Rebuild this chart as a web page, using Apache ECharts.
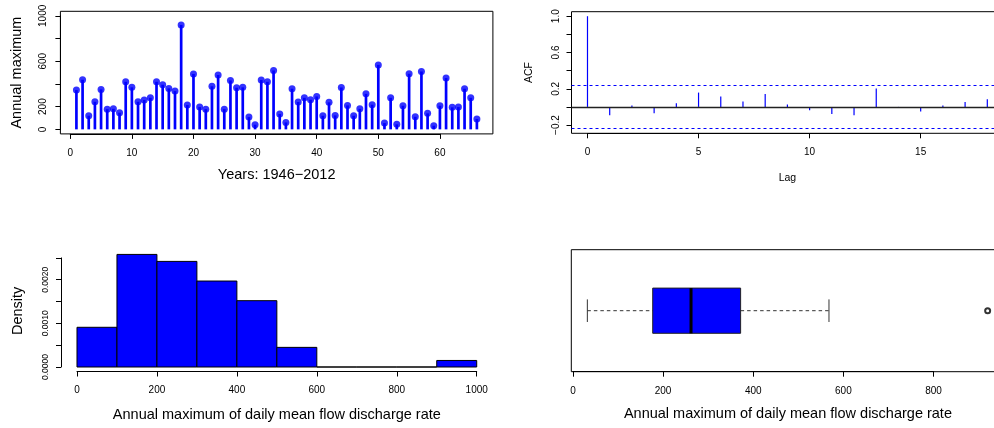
<!DOCTYPE html>
<html>
<head>
<meta charset="utf-8">
<script src="https://cdn.jsdelivr.net/npm/echarts@6/dist/echarts.min.js"></script>
<style>
  html, body { margin: 0; padding: 0; background: #fff; }
  #chart { width: 994px; height: 428px; }
</style>
</head>
<body>
<div id="chart"></div>
<script>
// Annual maximum of daily mean flow discharge rate, one value per year (1946–2012)
const annualMax = [346, 437, 120, 243, 352, 178, 181, 147, 419, 370, 243, 258, 278, 419, 393, 361, 337,
  920, 214, 488, 196, 178, 379, 479, 178, 431, 367, 370, 108, 41, 434, 419, 519, 135, 61, 358, 241, 278,
  261, 290, 120, 238, 123, 369, 211, 120, 181, 313, 217, 568, 55, 278, 44, 208, 490, 111, 510, 141, 32,
  208, 452, 194, 196, 358, 278, 91];

// Sample autocorrelation by lag, with the approximate 95% band
const acfLag = [0, 1, 2, 3, 4, 5, 6, 7, 8, 9, 10, 11, 12, 13, 14, 15, 16, 17, 18];
const acfValue = [1, -0.092, 0.015, -0.07, 0.04, 0.158, 0.114, 0.059, 0.143, 0.026, -0.037, -0.077,
  -0.092, 0.202, -0.011, -0.051, 0.015, 0.055, 0.084];
const acfBound = 0.241;

// Histogram (density scale)
const histBreaks = [0, 100, 200, 300, 400, 500, 600, 700, 800, 900, 1000];
const histDensity = [0.00091, 0.00258, 0.00242, 0.00197, 0.00152, 0.00045, 0, 0, 0, 0.00015];

// Boxplot: lower whisker, lower hinge, median, upper hinge, upper whisker
const boxStats = [32, 177, 262, 372, 568];
const boxOutliers = [920];

// Tick marks and their labels
const seriesXTicks = [0, 10, 20, 30, 40, 50, 60];
const seriesYTicks = [0, 200, 400, 600, 800, 1000];
const seriesYLabels = ['0', '200', '', '600', '', '1000'];
const acfXTicks = [0, 5, 10, 15];
const acfYTicks = [-0.2, 0, 0.2, 0.4, 0.6, 0.8, 1.0];
const acfYLabels = ['\u22120.2', '', '0.2', '', '0.6', '', '1.0'];
const histXTicks = [0, 200, 400, 600, 800, 1000];
const histYTicks = [0, 0.0005, 0.001, 0.0015, 0.002, 0.0025];
const histYLabels = ['0.0000', '', '0.0010', '', '0.0020', ''];
const boxXTicks = [0, 200, 400, 600, 800];

const BLUE = '#0000FF';
const FONT = 'Liberation Sans';

// Plot regions in pixels, with the data range each one spans
const panels = {
  series: { L: 60.4, T: 11.3, R: 492.9, B: 133.9, xlim: [-1.6, 68.6], ylim: [-40, 1040] },
  acf:    { L: 571.5, T: 11.7, R: 1003.3, B: 133.3, xlim: [-0.72, 18.72], ylim: [-0.291, 1.0497] },
  hist:   { L: 61, T: 250.1, R: 492.7, B: 371.5, xlim: [-40, 1040], ylim: [-0.000103, 0.002679] },
  box:    { L: 571.3, T: 249.7, R: 1004.6, B: 371.7, xlim: [-3.6, 957.6], ylim: [0.46, 1.54] }
};

const grids = [], xAxes = [], yAxes = [], series = [];

function labelFormatter(ticks, labels, tol) {
  return function (v) {
    const i = ticks.findIndex(t => Math.abs(t - v) < tol);
    return i < 0 ? '' : (labels ? labels[i] : String(ticks[i]));
  };
}

function gridAt(left, top, width, height, extra) {
  grids.push(Object.assign({ left, top, width, height, outerBoundsMode: 'none', containLabel: false }, extra || {}));
  return grids.length - 1;
}

function buildPanel(p, o) {
  const sx = v => p.L + (v - p.xlim[0]) / (p.xlim[1] - p.xlim[0]) * (p.R - p.L);
  const sy = v => p.B - (v - p.ylim[0]) / (p.ylim[1] - p.ylim[0]) * (p.B - p.T);
  const W = p.R - p.L, H = p.B - p.T;

  // data region
  const g = gridAt(p.L, p.T, W, H, { show: !!o.box, borderColor: '#000', borderWidth: 1, backgroundColor: 'transparent' });
  xAxes.push({ gridIndex: g, type: 'value', min: p.xlim[0], max: p.xlim[1],
    axisLine: { show: false }, axisTick: { show: false }, axisLabel: { show: false }, splitLine: { show: false },
    name: o.xName, nameLocation: 'middle', nameGap: o.xNameGap,
    nameTextStyle: { fontFamily: FONT, fontSize: o.nameSize, color: '#000' } });
  const xi = xAxes.length - 1;
  yAxes.push({ gridIndex: g, type: 'value', min: p.ylim[0], max: p.ylim[1],
    axisLine: { show: false }, axisTick: { show: false }, axisLabel: { show: false }, splitLine: { show: false },
    name: o.yName || '', nameLocation: 'middle', nameGap: o.yNameGap || 0,
    nameTextStyle: { fontFamily: FONT, fontSize: o.yNameSize || o.nameSize, color: '#000' } });
  const yi = yAxes.length - 1;

  // bottom axis, spanning first to last tick
  if (o.xTicks) {
    const t = o.xTicks, a = sx(t[0]), b = sx(t[t.length - 1]);
    const gx = gridAt(a, p.T, b - a, H);
    xAxes.push({ gridIndex: gx, type: 'value', position: 'bottom', min: t[0], max: t[t.length - 1], interval: o.xInterval,
      axisLine: { show: true, lineStyle: { color: '#000', width: 1 } },
      axisTick: { show: true, inside: false, length: 5, lineStyle: { color: '#000', width: 1 } },
      axisLabel: { margin: o.xLabelMargin, fontFamily: FONT, fontSize: o.tickSize, color: '#000',
        formatter: labelFormatter(t, o.xLabels, o.xInterval * 1e-3) },
      splitLine: { show: false } });
    yAxes.push({ gridIndex: gx, type: 'value', show: false, min: 0, max: 1 });
  }
  // left axis, spanning first to last tick
  if (o.yTicks) {
    const t = o.yTicks, a = sy(t[t.length - 1]), b = sy(t[0]);
    const gy = gridAt(p.L, a, W, b - a);
    xAxes.push({ gridIndex: gy, type: 'value', show: false, min: 0, max: 1 });
    yAxes.push({ gridIndex: gy, type: 'value', position: 'left', min: t[0], max: t[t.length - 1], interval: o.yInterval,
      axisLine: { show: true, lineStyle: { color: '#000', width: 1 } },
      axisTick: { show: true, inside: false, length: 5, lineStyle: { color: '#000', width: 1 } },
      axisLabel: { rotate: 90, margin: o.yLabelMargin, fontFamily: FONT, fontSize: o.yTickSize || o.tickSize, color: '#000',
        formatter: labelFormatter(t, o.yLabels, o.yInterval * 1e-3) },
      splitLine: { show: false } });
  }
  return { xi, yi };
}

// ---- Annual maxima as vertical spikes with dots
const A = buildPanel(panels.series, {
  box: true, xName: 'Years: 1946\u22122012', xNameGap: 34, yName: 'Annual maximum', yNameGap: 36, nameSize: 14.5,
  xTicks: seriesXTicks, xInterval: 10, yTicks: seriesYTicks, yInterval: 200, yLabels: seriesYLabels,
  tickSize: 10, xLabelMargin: 14, yLabelMargin: 12
});
const seriesPoints = annualMax.map((v, i) => [i + 1, v]);
series.push({
  type: 'custom', xAxisIndex: A.xi, yAxisIndex: A.yi, data: seriesPoints, encode: { x: 0, y: 1 },
  renderItem: (params, api) => {
    const p0 = api.coord([api.value(0), 0]);
    const p1 = api.coord([api.value(0), api.value(1)]);
    return { type: 'line', shape: { x1: p0[0], y1: p0[1], x2: p1[0], y2: p1[1] },
      style: { stroke: BLUE, lineWidth: 2.7 } };
  }
});
series.push({
  type: 'scatter', xAxisIndex: A.xi, yAxisIndex: A.yi, data: seriesPoints,
  symbol: 'circle', symbolSize: 7, itemStyle: { color: BLUE }
});

// ---- Autocorrelation function
const B = buildPanel(panels.acf, {
  box: true, xName: 'Lag', xNameGap: 39, yName: 'ACF', yNameGap: 37, nameSize: 10.5,
  xTicks: acfXTicks, xInterval: 5, yTicks: acfYTicks, yInterval: 0.2, yLabels: acfYLabels,
  tickSize: 10, xLabelMargin: 14, yLabelMargin: 10
});
series.push({
  type: 'custom', xAxisIndex: B.xi, yAxisIndex: B.yi,
  data: acfLag.map((l, i) => [l, acfValue[i]]), encode: { x: 0, y: 1 },
  renderItem: (params, api) => {
    const p0 = api.coord([api.value(0), 0]);
    const p1 = api.coord([api.value(0), api.value(1)]);
    return { type: 'line', shape: { x1: p0[0], y1: p0[1], x2: p1[0], y2: p1[1] },
      style: { stroke: BLUE, lineWidth: 1.2 } };
  },
  markLine: {
    silent: true, symbol: ['none', 'none'], label: { show: false }, animation: false,
    data: [
      { yAxis: 0, lineStyle: { color: '#222', width: 1.4, type: 'solid' } },
      { yAxis: acfBound, lineStyle: { color: BLUE, width: 1, type: [3, 3] } },
      { yAxis: -acfBound, lineStyle: { color: BLUE, width: 1, type: [3, 3] } }
    ]
  }
});

// ---- Histogram
const C = buildPanel(panels.hist, {
  box: false, xName: 'Annual maximum of daily mean flow discharge rate', xNameGap: 36,
  yName: 'Density', yNameGap: 36, nameSize: 14.5,
  xTicks: histXTicks, xInterval: 200, yTicks: histYTicks, yInterval: 0.0005, yLabels: histYLabels,
  tickSize: 10, yTickSize: 8.5, xLabelMargin: 14, yLabelMargin: 11
});
series.push({
  type: 'custom', xAxisIndex: C.xi, yAxisIndex: C.yi,
  data: histDensity.map((d, i) => [histBreaks[i], histBreaks[i + 1], d]), encode: { x: [0, 1], y: 2 },
  renderItem: (params, api) => {
    const a = api.coord([api.value(0), 0]);
    const b = api.coord([api.value(1), api.value(2)]);
    return { type: 'polygon', shape: { points: [[a[0], a[1]], [a[0], b[1]], [b[0], b[1]], [b[0], a[1]]] },
      style: { fill: BLUE, stroke: '#000', lineWidth: 1 } };
  }
});

// ---- Horizontal boxplot
const D = buildPanel(panels.box, {
  box: true, xName: 'Annual maximum of daily mean flow discharge rate', xNameGap: 35, nameSize: 14.5,
  xTicks: boxXTicks, xInterval: 200, tickSize: 10, xLabelMargin: 15
});
series.push({
  type: 'custom', xAxisIndex: D.xi, yAxisIndex: D.yi, data: [boxStats], encode: { x: [0, 1, 2, 3, 4] },
  renderItem: (params, api) => {
    const q = [0, 1, 2, 3, 4].map(k => api.value(k));
    const c = (x, y) => api.coord([x, y]);
    const seg = (p0, p1, style) => ({ type: 'line', shape: { x1: p0[0], y1: p0[1], x2: p1[0], y2: p1[1] }, style });
    const dash = { stroke: '#333', lineWidth: 1, lineDash: [3.5, 3] };
    const solid = { stroke: '#333', lineWidth: 1 };
    const b0 = c(q[1], 1.2), b1 = c(q[3], 0.8);
    return { type: 'group', children: [
      seg(c(q[0], 1), c(q[1], 1), dash),
      seg(c(q[3], 1), c(q[4], 1), dash),
      seg(c(q[0], 0.9), c(q[0], 1.1), solid),
      seg(c(q[4], 0.9), c(q[4], 1.1), solid),
      { type: 'rect', shape: { x: b0[0], y: b0[1], width: b1[0] - b0[0], height: b1[1] - b0[1] },
        style: { fill: BLUE, stroke: '#222', lineWidth: 1 } },
      seg(c(q[2], 0.8), c(q[2], 1.2), { stroke: '#000', lineWidth: 3 })
    ] };
  }
});
series.push({
  type: 'scatter', xAxisIndex: D.xi, yAxisIndex: D.yi, data: boxOutliers.map(v => [v, 1]),
  symbol: 'emptyCircle', symbolSize: 5, itemStyle: { color: '#000', borderColor: '#000', borderWidth: 1 }
});

const chart = echarts.init(document.getElementById('chart'), null, { renderer: 'canvas' });
chart.setOption({
  animation: false,
  backgroundColor: '#fff',
  grid: grids,
  xAxis: xAxes,
  yAxis: yAxes,
  series: series
});
</script>
</body>
</html>
